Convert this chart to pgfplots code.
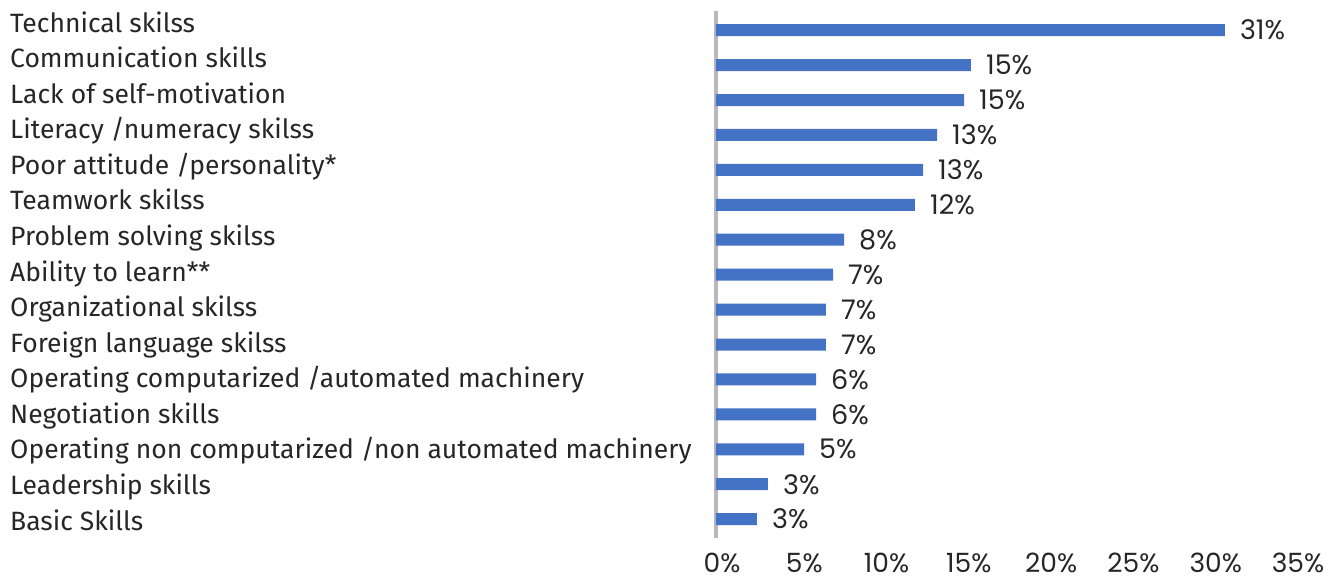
\documentclass[border=0pt]{standalone}
\usepackage{pgfplots}
\pgfplotsset{compat=1.18}
\usepackage{fontspec}
\setmainfont{Fira Sans}
\newfontfamily\numfont{Poppins}
\definecolor{barblue}{HTML}{4472C4}
\definecolor{axgray}{HTML}{B8B8BE}
\definecolor{txt}{HTML}{262626}
\begin{document}
\begin{tikzpicture}
\useasboundingbox (-716pt,-44pt) rectangle (623pt,538pt);
\begin{axis}[
  at={(0pt,0pt)}, anchor=south west,
  scale only axis, width=576pt, height=526.7pt,
  xmin=0, xmax=35, ymin=-0.54, ymax=14.54,
  xbar, bar width=12pt, bar shift=0pt,
  axis x line*=bottom, axis y line*=left,
  x axis line style={draw=none},
  y axis line style={draw=axgray, line width=4pt},
  xtick={0,5,...,35},
  xticklabels={0\%,5\%,10\%,15\%,20\%,25\%,30\%,35\%},
  xticklabel style={font=\numfont\fontsize{26.5pt}{26.5pt}\selectfont, text=txt, anchor=base, inner sep=0pt, yshift=-34pt, xshift=6pt},
  major tick length=0pt,
  xtick style={draw=none}, ytick style={draw=none},
  ytick={-0.313,0.705,1.723,2.742,3.760,4.778,5.796,6.815,7.833,8.851,9.869,10.888,11.906,12.924,13.943},
  yticklabels={Basic Skills,Leadership skills,Operating non computarized /non automated machinery,Negotiation skills,Operating computarized /automated machinery,Foreign language skilss,Organizational skilss,Ability to learn**,Problem solving skilss,Teamwork skilss,Poor attitude /personality*,Literacy /numeracy skilss,Lack of self-motivation,Communication skills,Technical skilss},
  yticklabel style={font=\fontsize{26.5pt}{26.5pt}\selectfont, text=txt, anchor=base west, inner sep=0pt, xshift=-706pt},
  clip=false,
]
\addplot[fill=barblue, draw=none,
  nodes near coords, point meta=explicit symbolic,
  every node near coord/.append style={font=\numfont\fontsize{27pt}{27pt}\selectfont, text=txt, anchor=west, inner sep=0pt, xshift=15pt}]
coordinates {
 (30.92,14) [31\%]
 (15.49,13) [15\%]
 (15.07,12) [15\%]
 (13.43,11) [13\%]
 (12.58,10) [13\%]
 (12.09,9) [12\%]
 (7.78,8) [8\%]
 (7.11,7) [7\%]
 (6.68,6) [7\%]
 (6.68,5) [7\%]
 (6.08,4) [6\%]
 (6.08,3) [6\%]
 (5.35,2) [5\%]
 (3.16,1) [3\%]
 (2.49,0) [3\%]
};
\end{axis}
\end{tikzpicture}
\end{document}
